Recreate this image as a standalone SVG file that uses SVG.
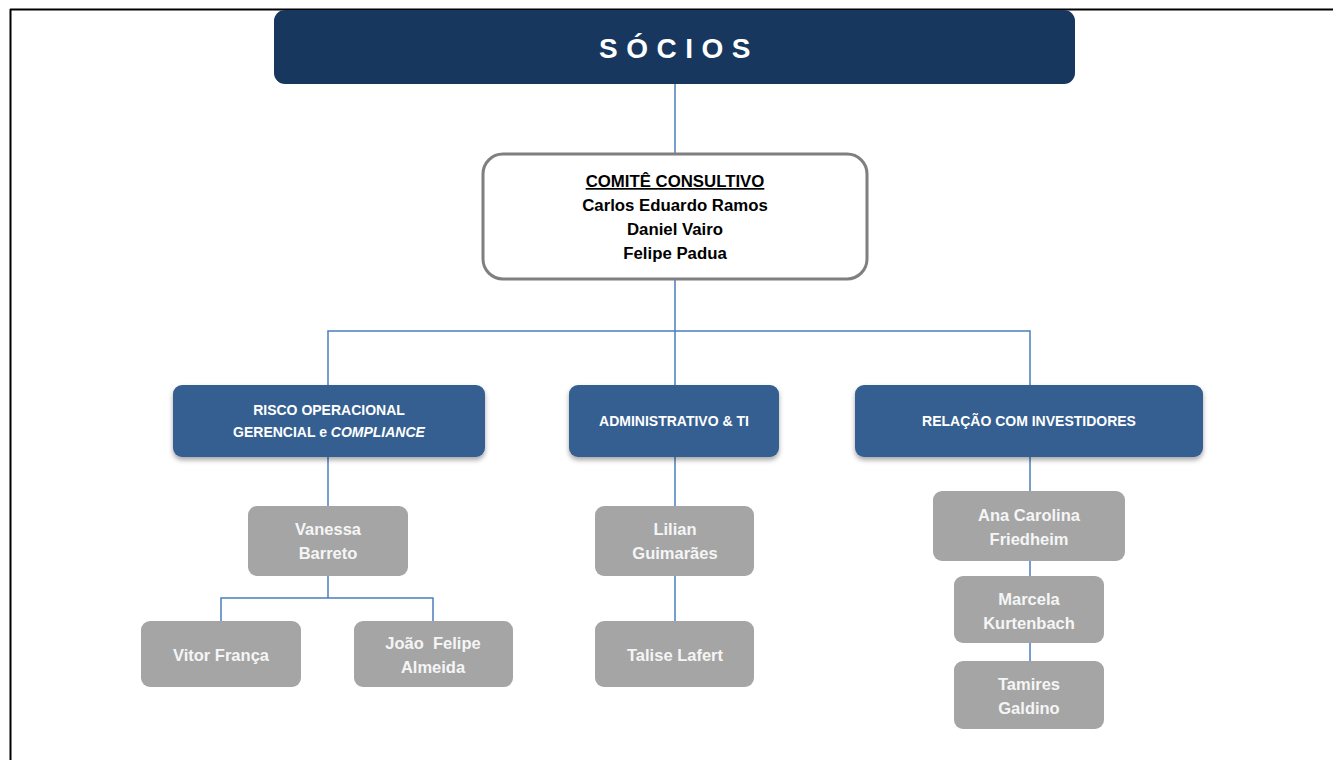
<svg xmlns="http://www.w3.org/2000/svg" width="1333" height="760" viewBox="0 0 1333 760">
<defs>
<style>
text{font-family:"Liberation Sans",Arial,sans-serif;font-weight:bold;text-anchor:middle}
.dept{fill:#365f91}
.person{fill:#a5a5a5}
.wt{fill:#ffffff;font-size:14px}
.pt{fill:#f5f5f5;font-size:16.5px}
.ct{fill:#000000;font-size:16.8px}
.conn{stroke:#4a7ebb;stroke-width:1.5;fill:none}
</style>
<filter id="sh" x="-10%" y="-20%" width="120%" height="150%">
<feDropShadow dx="0" dy="3" stdDeviation="2.5" flood-color="#000" flood-opacity="0.35"/>
</filter>
</defs>
<rect width="1333" height="760" fill="#fff"/>
<g id="frame">
<line x1="10.5" y1="9" x2="10.5" y2="760" stroke="#000" stroke-width="2"/>
<line x1="10" y1="9.5" x2="1333" y2="9.5" stroke="#000" stroke-width="2"/>
</g>
<g id="connectors">
<line class="conn" x1="675" y1="84" x2="675" y2="153"/>
<path class="conn" d="M675 279 V331 M328 385 V331 H1030 V385 M675 331 V385"/>
<line class="conn" x1="328" y1="457" x2="328" y2="506"/>
<path class="conn" stroke-width="2" d="M328 576 V598 M221 621 V598 H433 V621"/>
<line class="conn" x1="675" y1="457" x2="675" y2="506"/>
<line class="conn" x1="675" y1="576" x2="675" y2="621"/>
<line class="conn" x1="1030" y1="457" x2="1030" y2="491"/>
<line class="conn" x1="1030" y1="561" x2="1030" y2="576"/>
<line class="conn" x1="1030" y1="643" x2="1030" y2="661"/>
</g>
<g id="socios">
<rect x="274" y="10" width="801" height="74" rx="11" fill="#17375e"/>
<text x="679" y="58" fill="#fff" font-size="28" letter-spacing="8.5">SÓCIOS</text>
</g>
<g id="comite">
<rect x="483" y="154" width="384" height="125" rx="20" fill="#fff" stroke="#7f7f7f" stroke-width="3"/>
<text class="ct" x="675" y="187" text-decoration="underline">COMITÊ CONSULTIVO</text>
<text class="ct" x="675" y="211">Carlos Eduardo Ramos</text>
<text class="ct" x="675" y="235">Daniel Vairo</text>
<text class="ct" x="675" y="259">Felipe Padua</text>
</g>
<g id="risco">
<rect class="dept" x="173" y="385" width="312" height="72" rx="9" filter="url(#sh)"/>
<text class="wt" x="329" y="415">RISCO OPERACIONAL</text>
<text class="wt" x="329" y="437">GERENCIAL e <tspan font-style="italic">COMPLIANCE</tspan></text>
</g>
<g id="admin">
<rect class="dept" x="569" y="385" width="210" height="72" rx="9" filter="url(#sh)"/>
<text class="wt" x="674" y="426">ADMINISTRATIVO &amp; TI</text>
</g>
<g id="relacao">
<rect class="dept" x="855" y="385" width="348" height="72" rx="9" filter="url(#sh)"/>
<text class="wt" x="1029" y="426">RELAÇÃO COM INVESTIDORES</text>
</g>
<g id="vanessa">
<rect class="person" x="248" y="506" width="160" height="70" rx="9"/>
<text class="pt" x="328" y="535">Vanessa</text>
<text class="pt" x="328" y="559">Barreto</text>
</g>
<g id="vitor">
<rect class="person" x="141" y="621" width="160" height="66" rx="9"/>
<text class="pt" x="221" y="661">Vitor França</text>
</g>
<g id="joao">
<rect class="person" x="354" y="621" width="159" height="66" rx="9"/>
<text class="pt" x="433" y="649" xml:space="preserve">João  Felipe</text>
<text class="pt" x="433" y="673">Almeida</text>
</g>
<g id="lilian">
<rect class="person" x="595" y="506" width="159" height="70" rx="9"/>
<text class="pt" x="675" y="535">Lilian</text>
<text class="pt" x="675" y="559">Guimarães</text>
</g>
<g id="talise">
<rect class="person" x="595" y="621" width="159" height="66" rx="9"/>
<text class="pt" x="675" y="661">Talise Lafert</text>
</g>
<g id="ana">
<rect class="person" x="933" y="491" width="192" height="70" rx="9"/>
<text class="pt" x="1029" y="521">Ana Carolina</text>
<text class="pt" x="1029" y="545">Friedheim</text>
</g>
<g id="marcela">
<rect class="person" x="954" y="576" width="150" height="67" rx="9"/>
<text class="pt" x="1029" y="605">Marcela</text>
<text class="pt" x="1029" y="629">Kurtenbach</text>
</g>
<g id="tamires">
<rect class="person" x="954" y="661" width="150" height="68" rx="9"/>
<text class="pt" x="1029" y="690">Tamires</text>
<text class="pt" x="1029" y="714">Galdino</text>
</g>
</svg>
